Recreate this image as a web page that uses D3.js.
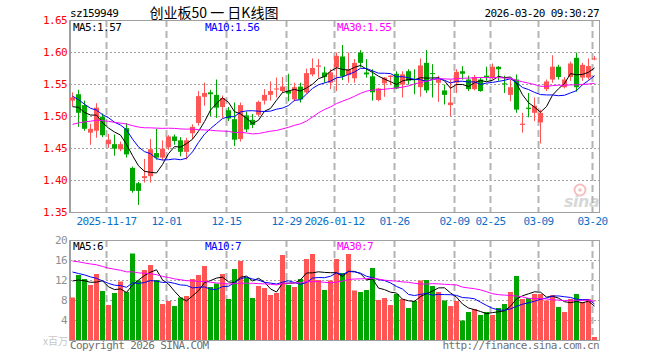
<!DOCTYPE html>
<html>
<head>
<meta charset="utf-8">
<script src="https://cdn.jsdelivr.net/npm/d3@7"></script>
<style>
  body { margin: 0; background: #fff; }
  svg { display: block; }
  text { font-family: "DejaVu Sans Mono", "Liberation Mono", monospace; font-size: 11px; letter-spacing: -0.6px; }
</style>
</head>
<body>
<svg id="chart" width="660" height="360"></svg>
<script>
const dates = [
  "2025-11-07",
  "2025-11-10","2025-11-11","2025-11-12","2025-11-13","2025-11-14",
  "2025-11-17","2025-11-18","2025-11-19","2025-11-20","2025-11-21",
  "2025-11-24","2025-11-25","2025-11-26","2025-11-27","2025-11-28",
  "2025-12-01","2025-12-02","2025-12-03","2025-12-04","2025-12-05",
  "2025-12-08","2025-12-09","2025-12-10","2025-12-11","2025-12-12",
  "2025-12-15","2025-12-16","2025-12-17","2025-12-18","2025-12-19",
  "2025-12-22","2025-12-23","2025-12-24","2025-12-25","2025-12-26",
  "2025-12-29","2025-12-30","2025-12-31",
  "2026-01-05","2026-01-06","2026-01-07","2026-01-08","2026-01-09",
  "2026-01-12","2026-01-13","2026-01-14","2026-01-15","2026-01-16",
  "2026-01-19","2026-01-20","2026-01-21","2026-01-22","2026-01-23",
  "2026-01-26","2026-01-27","2026-01-28","2026-01-29","2026-01-30",
  "2026-02-02","2026-02-03","2026-02-04","2026-02-05","2026-02-06",
  "2026-02-09","2026-02-10","2026-02-11","2026-02-12","2026-02-13",
  "2026-02-24","2026-02-25","2026-02-26","2026-02-27",
  "2026-03-02","2026-03-03","2026-03-04","2026-03-05","2026-03-06",
  "2026-03-09","2026-03-10","2026-03-11","2026-03-12","2026-03-13",
  "2026-03-16","2026-03-17","2026-03-18","2026-03-19","2026-03-20"
];

const open = [
  1.524,1.534,1.517,1.474,1.477,1.499,1.456,1.456,1.448,1.481,
  1.419,1.395,1.403,1.406,1.442,1.435,1.451,1.468,1.462,1.444,
  1.473,1.489,1.530,1.537,1.533,1.514,1.509,1.495,1.464,1.501,
  1.494,1.502,1.524,1.533,1.542,1.539,1.539,1.526,1.546,1.537,
  1.565,1.577,1.568,1.552,1.576,1.593,1.564,1.559,1.599,1.568,
  1.562,1.525,1.551,1.561,1.566,1.549,1.570,1.558,1.545,1.583,
  1.567,1.552,1.540,1.517,1.552,1.570,1.557,1.542,1.557,1.563,
  1.560,1.577,1.551,1.533,1.557,1.486,1.513,1.505,1.490,1.542,
  1.557,1.577,1.545,1.561,1.591,1.560,1.560,1.589
];
const high = [
  1.537,1.541,1.524,1.488,1.520,1.504,1.472,1.471,1.460,1.489,
  1.421,1.397,1.433,1.464,1.480,1.462,1.470,1.471,1.467,1.466,
  1.487,1.539,1.552,1.541,1.557,1.532,1.514,1.521,1.521,1.507,
  1.503,1.524,1.542,1.554,1.560,1.561,1.566,1.552,1.552,1.574,
  1.590,1.589,1.577,1.573,1.599,1.611,1.599,1.589,1.603,1.589,
  1.573,1.544,1.561,1.564,1.570,1.570,1.573,1.573,1.590,1.603,
  1.581,1.563,1.549,1.557,1.573,1.578,1.563,1.564,1.560,1.577,
  1.582,1.578,1.563,1.557,1.565,1.505,1.536,1.529,1.510,1.557,
  1.595,1.580,1.561,1.585,1.599,1.583,1.590,1.594
];
const low = [
  1.515,1.483,1.477,1.455,1.466,1.467,1.450,1.438,1.445,1.435,
  1.380,1.361,1.396,1.396,1.432,1.431,1.447,1.455,1.437,1.432,
  1.464,1.485,1.516,1.500,1.497,1.497,1.492,1.453,1.460,1.475,
  1.481,1.500,1.518,1.524,1.529,1.536,1.523,1.523,1.521,1.535,
  1.562,1.560,1.552,1.542,1.539,1.556,1.552,1.552,1.576,1.560,
  1.524,1.523,1.530,1.548,1.542,1.529,1.549,1.534,1.530,1.536,
  1.529,1.522,1.518,1.500,1.536,1.557,1.539,1.540,1.538,1.555,
  1.557,1.555,1.536,1.523,1.505,1.474,1.498,1.492,1.457,1.539,
  1.552,1.557,1.543,1.555,1.538,1.555,1.557,1.587
];
const close = [
  1.529,1.505,1.480,1.480,1.513,1.470,1.463,1.449,1.456,1.440,
  1.383,1.383,1.406,1.448,1.435,1.449,1.468,1.461,1.444,1.462,
  1.483,1.531,1.536,1.534,1.513,1.528,1.496,1.463,1.517,1.479,
  1.486,1.522,1.533,1.539,1.543,1.546,1.535,1.545,1.526,1.567,
  1.575,1.579,1.561,1.568,1.594,1.562,1.573,1.583,1.583,1.565,
  1.537,1.543,1.560,1.563,1.543,1.565,1.555,1.557,1.579,1.540,
  1.566,1.557,1.533,1.521,1.569,1.566,1.542,1.561,1.539,1.560,
  1.577,1.573,1.550,1.545,1.510,1.488,1.511,1.516,1.505,1.554,
  1.577,1.561,1.557,1.582,1.545,1.580,1.578,1.590
];
// volume, millions
const volume = [
  8.5,13.0,12.2,11.0,13.2,9.8,7.0,9.4,11.7,9.6,
  17.3,11.9,14.0,15.0,12.0,7.2,7.8,6.8,8.5,8.8,
  12.2,13.0,14.8,10.6,11.3,13.2,8.2,14.2,15.8,12.5,
  8.4,10.8,10.4,9.0,9.4,17.0,11.0,10.6,12.2,16.2,
  17.2,12.0,10.0,11.9,16.2,13.4,17.2,9.9,9.6,10.0,
  14.4,8.0,8.4,7.0,9.2,8.2,6.4,7.8,11.9,12.0,
  10.8,9.6,7.9,6.8,7.8,3.9,5.6,6.2,5.0,5.6,
  5.0,6.4,7.2,9.6,12.8,8.2,8.4,9.2,9.2,7.9,
  9.0,6.6,5.6,8.2,9.2,7.6,8.2,0.6
];

// sessions before the visible window, only used to seed the moving averages
const priorCloses = [
  1.44,1.43,1.45,1.46,1.50,1.49,1.50,1.49,1.48,1.46,
  1.45,1.44,1.45,1.45,1.46,1.46,1.47,1.47,1.47,1.48,
  1.56,1.55,1.545,1.54,1.542,1.5105,1.52,1.50,1.5135
];
const priorVolumes = [
  18,19,17,18,20,17,16,18,19,17,
  18,17,18,17,18,14,15,14,14,14,
  16,15,15,16,15,12,13,12.5,13
];

const tickDates = ["2025-11-17","2025-12-01","2025-12-15","2025-12-29","2026-01-12",
  "2026-01-26","2026-02-09","2026-02-25","2026-03-09","2026-03-20"];
const tickLabels = ["2025-11-17","12-01","12-15","12-29","2026-01-12",
  "01-26","02-09","02-25","03-09","03-20"];
const priceTicks = [1.65, 1.60, 1.55, 1.50, 1.45, 1.40, 1.35];
const volumeTicks = [20, 16, 12, 8, 4];
const maPeriods = [5, 10, 30];
const maColors = ["#000000", "#0000ff", "#ff00ff"];
const maLegendX = [73, 205, 337];

const upColor = "#ff5555", downColor = "#00a600";
const frameLeft = 70, frameRight = 599;

const svg = d3.select("#chart");

const x = d3.scaleBand().domain(dates).range([69.5, 597.5]).padding(0);
const y = d3.scaleLinear().domain([1.35, 1.65]).range([212, 20]);
const yv = d3.scaleLinear().domain([0, 20]).range([340, 240]);

const crisp = v => Math.round(v) + 0.5;
const isUp = i => close[i] >= open[i];

function movingAverage(values, prior, n) {
  const all = prior.concat(values);
  return values.map((_, i) => d3.mean(all.slice(prior.length + i - n + 1, prior.length + i + 1)));
}

// ---- header
svg.append("text").attr("x", 70).attr("y", 17).attr("fill", "#000").text("sz159949");
svg.append("text").attr("x", 214).attr("y", 18).attr("text-anchor", "middle")
  .style("font-family", '"Noto Sans CJK SC", sans-serif').style("font-size", "14px").style("letter-spacing", "0")
  .attr("fill", "#000").text("创业板50 一 日K线图");
svg.append("text").attr("x", 599).attr("y", 17).attr("text-anchor", "end").attr("fill", "#000")
  .text("2026-03-20 09:30:27");

// ---- grids for both panels
function panelGrid(top, bottom, hTicks, scale) {
  const g = svg.append("g");
  g.selectAll(".h").data(hTicks).join("line")
    .attr("x1", frameLeft).attr("x2", frameRight)
    .attr("y1", d => crisp(scale(d))).attr("y2", d => crisp(scale(d)))
    .attr("stroke", "#a0a0a0").attr("stroke-dasharray", "2,2");
  g.selectAll(".v").data(tickDates).join("line")
    .attr("x1", d => x(d) + 1).attr("x2", d => x(d) + 1)
    .attr("y1", top).attr("y2", bottom)
    .attr("stroke", "#b4b4b4").attr("stroke-width", 2).attr("stroke-dasharray", "7,4");
  g.append("rect").attr("x", frameLeft + 0.5).attr("y", top + 0.5)
    .attr("width", frameRight - frameLeft).attr("height", bottom - top)
    .attr("fill", "none").attr("stroke", "#a0a0a0");
  g.append("line").attr("x1", frameLeft).attr("x2", frameLeft).attr("y1", top).attr("y2", bottom + 1)
    .attr("stroke", "#a0a0a0").attr("stroke-width", 2);
}
panelGrid(20, 212, priceTicks.slice(1, -1), y);
panelGrid(240, 340, volumeTicks.slice(1), yv);

// ---- sina watermark
const wm = svg.append("g").attr("opacity", 0.55);
wm.append("circle").attr("cx", 580).attr("cy", 190).attr("r", 5.5)
  .attr("fill", "none").attr("stroke", "#f08a8a").attr("stroke-width", 2);
wm.append("circle").attr("cx", 580).attr("cy", 190).attr("r", 1.8).attr("fill", "#f08a8a");
wm.append("text").attr("x", 564).attr("y", 207)
  .style("font-family", '"DejaVu Sans", sans-serif').style("font-size", "16px")
  .style("font-style", "italic").style("font-weight", "bold").style("letter-spacing", "-0.5px")
  .attr("fill", "#b8b8b8").text("sina");

// ---- candles
const idx = d3.range(dates.length);
const candles = svg.append("g");
candles.selectAll("line").data(idx).join("line")
  .attr("x1", i => x(dates[i]) + 3).attr("x2", i => x(dates[i]) + 3)
  .attr("y1", i => y(high[i])).attr("y2", i => y(low[i]))
  .attr("stroke", i => isUp(i) ? upColor : downColor);
candles.selectAll("rect").data(idx).join("rect")
  .attr("x", i => x(dates[i]) + 0.5).attr("width", 5)
  .attr("y", i => y(Math.max(open[i], close[i])))
  .attr("height", i => Math.max(1, Math.abs(y(open[i]) - y(close[i]))))
  .attr("fill", i => isUp(i) ? upColor : downColor);

// ---- volume bars
svg.append("g").selectAll("rect").data(idx).join("rect")
  .attr("x", i => x(dates[i]) + 0.5).attr("width", 5)
  .attr("y", i => yv(volume[i])).attr("height", i => yv(0) - yv(volume[i]))
  .attr("fill", i => isUp(i) ? upColor : downColor);

// ---- moving averages
const priceMA = maPeriods.map(n => movingAverage(close, priorCloses, n));
const volumeMA = maPeriods.map(n => movingAverage(volume, priorVolumes, n));
const cx = i => x(dates[i]) + 3;
maPeriods.forEach((n, k) => {
  svg.append("path").attr("fill", "none").attr("stroke", maColors[k])
    .attr("d", d3.line().x((d, i) => cx(i)).y(d => y(d))(priceMA[k]));
  svg.append("path").attr("fill", "none").attr("stroke", maColors[k])
    .attr("d", d3.line().x((d, i) => cx(i)).y(d => yv(d))(volumeMA[k]));
});

// ---- legends
const last = a => a[a.length - 1];
maPeriods.forEach((n, k) => {
  svg.append("text").attr("x", maLegendX[k]).attr("y", 31).attr("fill", maColors[k])
    .text(`MA${n}:${(Math.floor(last(priceMA[k]) * 100 + 1e-6) / 100).toFixed(2)}`);
  svg.append("text").attr("x", maLegendX[k]).attr("y", 250).attr("fill", maColors[k])
    .text(`MA${n}:${Math.floor(last(volumeMA[k]))}`);
});

// ---- axes labels
svg.append("g").selectAll("text").data(priceTicks).join("text")
  .attr("x", 67).attr("y", d => y(d) + 4).attr("text-anchor", "end")
  .attr("fill", "#ff0000").text(d => d.toFixed(2));
svg.append("g").selectAll("text").data(volumeTicks).join("text")
  .attr("x", 67).attr("y", d => yv(d) + 4).attr("text-anchor", "end")
  .attr("fill", "#909090").text(d => d);
svg.append("text").attr("x", 68).attr("y", 345).attr("text-anchor", "end")
  .style("font-family", '"Noto Sans CJK SC", sans-serif').style("font-size", "10px").style("letter-spacing", "0")
  .attr("fill", "#c8c8c8").text("x百万");
svg.append("g").selectAll("text").data(tickDates).join("text")
  .attr("x", d => x(d) + 1).attr("y", 225).attr("text-anchor", "middle")
  .attr("fill", "#0a70c8").text((d, i) => tickLabels[i]);

// ---- footer
svg.append("text").attr("x", 70).attr("y", 349).attr("fill", "#707070").text("Copyright 2026 SINA.COM");
svg.append("text").attr("x", 599).attr("y", 349).attr("text-anchor", "end").attr("fill", "#707070")
  .text("http://finance.sina.com.cn");
</script>
</body>
</html>
